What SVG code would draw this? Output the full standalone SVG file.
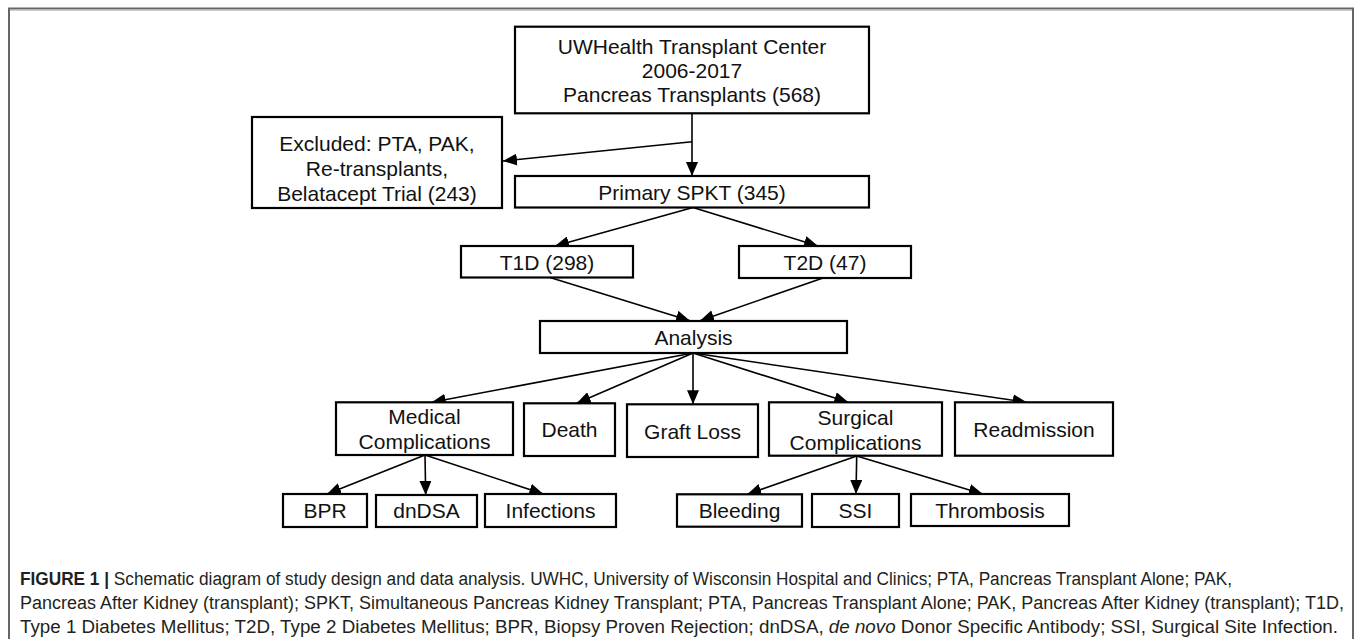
<svg xmlns="http://www.w3.org/2000/svg" width="1355" height="639" viewBox="0 0 1355 639">
<style>
.box{fill:#fff;stroke:#000;stroke-width:2.2}
.lbl{font-family:"Liberation Sans",Arial,sans-serif;font-size:21px;fill:#111;text-anchor:middle}
.con{stroke:#000;stroke-width:1.6;fill:none;marker-end:url(#ah)}
.cap{font-family:"Liberation Sans Narrow","Liberation Sans",Arial,sans-serif;font-size:18px;fill:#231f20}
.frame{stroke:#666;stroke-width:2;fill:none}
</style>
<defs>
<marker id="ah" markerUnits="userSpaceOnUse" markerWidth="15" markerHeight="12" refX="14" refY="6" orient="auto">
<path d="M0,0 L14,6 L0,12 Z" fill="#000"/>
</marker>
</defs>
<rect width="1355" height="639" fill="#fff"/>
<path class="frame" d="M9,639 V8.5 H1353 V639"/>
<line x1="10" y1="10.5" x2="1352" y2="10.5" stroke="#ccc" stroke-width="1"/>

<g id="connectors">
<line class="con" x1="692" y1="113.5" x2="692" y2="176"/>
<line class="con" x1="692" y1="141.7" x2="503" y2="161"/>
<line class="con" x1="693" y1="207.5" x2="555" y2="246"/>
<line class="con" x1="693" y1="207.5" x2="818" y2="246"/>
<line class="con" x1="550" y1="277.5" x2="690" y2="320.7"/>
<line class="con" x1="823" y1="278" x2="700" y2="320.7"/>
<line class="con" x1="693" y1="353" x2="431.7" y2="402.3"/>
<line class="con" x1="693" y1="353" x2="576.7" y2="403.3"/>
<line class="con" x1="693" y1="353" x2="693" y2="404.3"/>
<line class="con" x1="693" y1="353" x2="848.3" y2="402.3"/>
<line class="con" x1="693" y1="353" x2="1026.7" y2="402.3"/>
<line class="con" x1="425" y1="455" x2="327" y2="494"/>
<line class="con" x1="425" y1="455" x2="425.7" y2="495"/>
<line class="con" x1="425" y1="455" x2="543.3" y2="494"/>
<line class="con" x1="856.7" y1="456" x2="747.3" y2="494.3"/>
<line class="con" x1="856.7" y1="456" x2="856" y2="494"/>
<line class="con" x1="856.7" y1="456" x2="982.7" y2="494"/>
</g>

<g id="n_top">
<rect class="box" x="515" y="26.7" width="354" height="86.6"/>
<text class="lbl" x="692" y="54">UWHealth Transplant Center</text>
<text class="lbl" x="692" y="78">2006-2017</text>
<text class="lbl" x="692" y="102">Pancreas Transplants (568)</text>
</g>
<g id="n_excluded">
<rect class="box" x="252" y="117" width="250" height="91"/>
<text class="lbl" x="377" y="151">Excluded: PTA, PAK,</text>
<text class="lbl" x="377" y="176">Re-transplants,</text>
<text class="lbl" x="377" y="201">Belatacept Trial (243)</text>
</g>
<g id="n_primary">
<rect class="box" x="515" y="176" width="354" height="31.5"/>
<text class="lbl" x="692" y="200">Primary SPKT (345)</text>
</g>
<g id="n_t1d">
<rect class="box" x="461" y="246" width="172" height="31.5"/>
<text class="lbl" x="547" y="270">T1D (298)</text>
</g>
<g id="n_t2d">
<rect class="box" x="739" y="246" width="172" height="32"/>
<text class="lbl" x="825" y="270">T2D (47)</text>
</g>
<g id="n_analysis">
<rect class="box" x="540" y="321" width="307" height="32"/>
<text class="lbl" x="693.5" y="345">Analysis</text>
</g>
<g id="n_medical">
<rect class="box" x="336" y="402.3" width="177" height="52.7"/>
<text class="lbl" x="424.5" y="424">Medical</text>
<text class="lbl" x="424.5" y="449">Complications</text>
</g>
<g id="n_death">
<rect class="box" x="524" y="403.3" width="91" height="52.7"/>
<text class="lbl" x="569.5" y="437">Death</text>
</g>
<g id="n_graft">
<rect class="box" x="627" y="404.3" width="131" height="52.7"/>
<text class="lbl" x="692.5" y="438.5">Graft Loss</text>
</g>
<g id="n_surgical">
<rect class="box" x="769" y="402.3" width="173" height="53.4"/>
<text class="lbl" x="855.5" y="425">Surgical</text>
<text class="lbl" x="855.5" y="450">Complications</text>
</g>
<g id="n_readmission">
<rect class="box" x="955" y="402.3" width="158" height="53.4"/>
<text class="lbl" x="1034" y="437">Readmission</text>
</g>
<g id="n_bpr">
<rect class="box" x="283" y="494" width="84" height="33"/>
<text class="lbl" x="325" y="518">BPR</text>
</g>
<g id="n_dndsa">
<rect class="box" x="376" y="495" width="101" height="32"/>
<text class="lbl" x="426.5" y="518">dnDSA</text>
</g>
<g id="n_infections">
<rect class="box" x="485" y="494" width="131" height="33"/>
<text class="lbl" x="550.5" y="518">Infections</text>
</g>
<g id="n_bleeding">
<rect class="box" x="677" y="494.3" width="125" height="32.4"/>
<text class="lbl" x="739.5" y="518">Bleeding</text>
</g>
<g id="n_ssi">
<rect class="box" x="812" y="494" width="87" height="33"/>
<text class="lbl" x="855.5" y="518">SSI</text>
</g>
<g id="n_thrombosis">
<rect class="box" x="911" y="494" width="158" height="32"/>
<text class="lbl" x="990" y="518">Thrombosis</text>
</g>

<g id="caption">
<text class="cap" x="20" y="585" textLength="1212" lengthAdjust="spacingAndGlyphs"><tspan font-weight="bold">FIGURE 1 |</tspan> Schematic diagram of study design and data analysis. UWHC, University of Wisconsin Hospital and Clinics; PTA, Pancreas Transplant Alone; PAK,</text>
<text class="cap" x="20" y="609" textLength="1324" lengthAdjust="spacingAndGlyphs">Pancreas After Kidney (transplant); SPKT, Simultaneous Pancreas Kidney Transplant; PTA, Pancreas Transplant Alone; PAK, Pancreas After Kidney (transplant); T1D,</text>
<text class="cap" x="20" y="633" textLength="1318" lengthAdjust="spacingAndGlyphs">Type 1 Diabetes Mellitus; T2D, Type 2 Diabetes Mellitus; BPR, Biopsy Proven Rejection; dnDSA, <tspan font-style="italic">de novo</tspan> Donor Specific Antibody; SSI, Surgical Site Infection.</text>
</g>
</svg>
